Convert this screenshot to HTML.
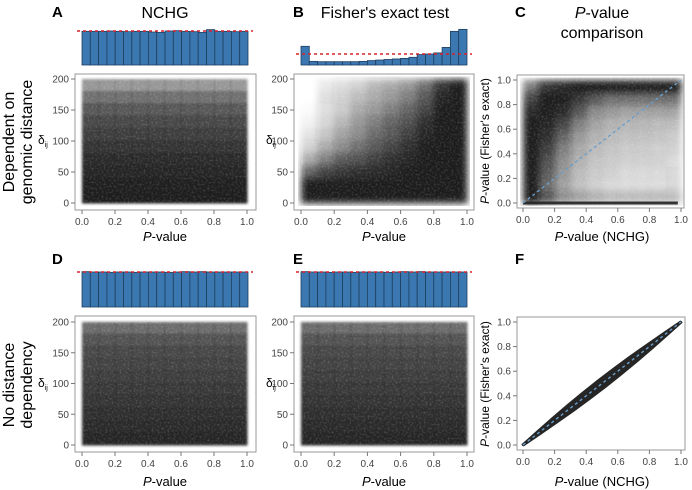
<!DOCTYPE html>
<html><head><meta charset="utf-8"><style>
body{margin:0;background:#fff;}
svg{display:block;font-family:"Liberation Sans",sans-serif;}
.t{font-size:10px;fill:#444;}
</style></head><body>
<svg id="fig" width="692" height="490" viewBox="0 0 692 490">
<defs>
<filter id="soft" x="-2%" y="-2%" width="104%" height="104%"><feGaussianBlur stdDeviation="1.4"/></filter>
<filter id="soft2" x="-2%" y="-2%" width="104%" height="104%"><feGaussianBlur stdDeviation="3.5"/></filter>
<filter id="grain"><feTurbulence type="fractalNoise" baseFrequency="0.5" numOctaves="1" seed="3"/><feColorMatrix values="0 0 0 0 1  0 0 0 0 1  0 0 0 0 1  0 0 0 -1.8 1.0"/></filter>
</defs>
<g id="labels" font-size="16">
<text x="52" y="17" font-weight="bold" font-size="15">A</text>
<text x="165" y="18" text-anchor="middle">NCHG</text>
<text x="293" y="17" font-weight="bold" font-size="15">B</text>
<text x="385" y="18" text-anchor="middle">Fisher's exact test</text>
<text x="515" y="17" font-weight="bold" font-size="15">C</text>
<text x="602" y="18" text-anchor="middle"><tspan font-style="italic">P</tspan>-value</text>
<text x="602" y="38" text-anchor="middle">comparison</text>
<text transform="translate(14,142) rotate(-90)" text-anchor="middle">Dependent on</text>
<text transform="translate(32,142) rotate(-90)" text-anchor="middle">genomic distance</text>
<text transform="translate(14,385) rotate(-90)" text-anchor="middle">No distance</text>
<text transform="translate(32,385) rotate(-90)" text-anchor="middle">dependency</text>
<text x="52" y="264" font-weight="bold" font-size="15">D</text>
<text x="293" y="264" font-weight="bold" font-size="15">E</text>
<text x="515" y="264" font-weight="bold" font-size="15">F</text>
</g>
</svg>
<script>
// ---- data ----
const histA=[0.99,0.99,0.99,1.0,0.99,0.98,0.99,0.99,0.97,0.96,1.0,1.01,0.99,0.98,0.96,1.04,0.99,0.99,0.98,0.99];
const histB=[1.7,0.33,0.3,0.3,0.3,0.3,0.3,0.33,0.4,0.45,0.5,0.55,0.6,0.7,0.95,1.0,1.1,1.6,3.06,3.24];
const histD=[1.01,1.0,1.0,0.99,1.0,1.0,0.99,1.0,1.0,1.0,0.99,1.0,1.01,1.0,1.01,1.0,1.0,1.0,1.0,1.0];
const histE=[1.01,1.0,1.0,0.99,1.0,1.0,0.99,1.0,1.0,1.0,0.99,1.0,1.01,1.0,1.01,1.0,1.0,1.0,1.0,1.0];
const rowDensA=[0.45,0.6,0.7,0.78,0.82,0.86,0.9,0.92,0.94,0.95];
const rowDensD=[0.62,0.74,0.78,0.8,0.82,0.84,0.86,0.88,0.9,0.92];
const gridB=[
[0,0.08,0.15,0.2,0.3,0.35,0.45,0.6,0.85,0.95],
[0,0.12,0.2,0.28,0.35,0.45,0.55,0.7,0.92,1],
[0.02,0.15,0.22,0.35,0.45,0.55,0.65,0.8,0.95,1],
[0.05,0.18,0.3,0.42,0.55,0.65,0.75,0.88,0.97,1],
[0.1,0.25,0.38,0.5,0.62,0.72,0.82,0.92,1,1],
[0.2,0.35,0.5,0.6,0.72,0.8,0.88,0.95,1,1],
[0.35,0.55,0.68,0.75,0.82,0.88,0.92,0.96,1,1],
[0.65,0.8,0.85,0.88,0.9,0.92,0.95,0.97,1,1],
[0.95,0.95,0.95,0.96,0.96,0.97,0.97,0.98,1,1],
[1,1,1,1,1,1,1,1,1,1]];
const gridC=[
[0.55,0.85,0.9,1,1,1,1,1,1,1],
[0.8,0.97,0.95,0.85,0.7,0.6,0.6,0.6,0.6,0.6],
[0.9,0.95,0.9,0.7,0.5,0.42,0.38,0.38,0.38,0.38],
[0.95,0.92,0.8,0.55,0.38,0.32,0.3,0.3,0.28,0.28],
[0.95,0.88,0.65,0.42,0.32,0.28,0.26,0.26,0.25,0.22],
[0.95,0.82,0.55,0.36,0.28,0.25,0.22,0.22,0.2,0.2],
[0.95,0.75,0.48,0.32,0.25,0.22,0.2,0.2,0.2,0.16],
[0.95,0.68,0.42,0.28,0.22,0.2,0.16,0.16,0.16,0.14],
[0.95,0.62,0.38,0.26,0.2,0.16,0.15,0.15,0.15,0.14],
[0.97,0.7,0.48,0.38,0.32,0.28,0.28,0.28,0.28,0.28]];
const bandX=[0,0.1,0.2,0.3,0.4,0.5,0.6,0.7,0.8,0.9,1.0];
const bandHalfF=[0.003,0.01,0.016,0.021,0.024,0.025,0.024,0.021,0.016,0.01,0.003];
const pTicks=[0,0.2,0.4,0.6,0.8,1.0];
const pTickLabels=["0.0","0.2","0.4","0.6","0.8","1.0"];
const dTicks=[0,50,100,150,200];
const dTickLabels=["0","50","100","150","200"];

// ---- drawing ----
const NS="http://www.w3.org/2000/svg";
const svg=document.getElementById('fig');
function el(tag,attrs,parent){const e=document.createElementNS(NS,tag);for(const k in attrs)e.setAttribute(k,attrs[k]);(parent||svg).appendChild(e);return e;}
function lin(d0,d1,r0,r1){return v=>r0+(v-d0)/(d1-d0)*(r1-r0);}

function hist(vals,x0,x1,yb,unitH,name){
  const g=el('g',{});
  
  
  const sx=lin(0,vals.length,x0,x1);
  vals.forEach((v,i)=>{
    const r=el('rect',{x:sx(i),y:yb-v*unitH,width:sx(i+1)-sx(i),height:v*unitH,fill:'#3b78b1',stroke:'#1f3f60','stroke-width':0.8},g);
    
    
  });
  const l=el('line',{x1:x0-5,x2:x1+5,y1:yb-unitH,y2:yb-unitH,stroke:'#d8232a','stroke-width':1.6,'stroke-dasharray':'3,3'},g);
  
  
}

function axes(box,sx,sy,xt,xl,yt,yl,name){
  const g=el('g',{});
  
  
  el('rect',{x:box[0],y:box[1],width:box[2]-box[0],height:box[3]-box[1],fill:'none',stroke:'#999','stroke-width':1},g);
  xt.forEach((v,i)=>{const x=sx(v);el('line',{x1:x,x2:x,y1:box[3],y2:box[3]+4,stroke:'#777'},g);
    const t=el('text',{x:x,y:box[3]+15,'text-anchor':'middle',class:'t'},g);t.textContent=xl[i];});
  yt.forEach((v,i)=>{const y=sy(v);el('line',{x1:box[0],x2:box[0]-4,y1:y,y2:y,stroke:'#777'},g);
    const t=el('text',{x:box[0]-6,y:y+3.5,'text-anchor':'end',class:'t'},g);t.textContent=yl[i];});
}

function gridScatter(grid,box,sx,sy,xmax,ymax,name,filt){
  const clipId='clip-'+name;
  const cp=el('clipPath',{id:clipId});
  el('rect',{x:sx(0)-3,y:sy(ymax)-3,width:sx(xmax)-sx(0)+6,height:sy(0)-sy(ymax)+6},cp);
  const outer=el('g',{'clip-path':'url(#'+clipId+')'});
  const g=el('g',{filter:'url(#'+(filt||'soft')+')'},outer);
  
  
  const nr=grid.length,nc=grid[0].length;
  for(let r=0;r<nr;r++)for(let c=0;c<nc;c++){
    const xa=sx(c/nc*xmax),xb=sx((c+1)/nc*xmax);
    const ya=sy(ymax*(1-r/nr)),yb=sy(ymax*(1-(r+1)/nr));
    el('rect',{x:xa,y:ya,width:xb-xa+0.5,height:yb-ya+0.5,fill:'#1e1e1e','fill-opacity':Math.min(1,grid[r][c]*1.05)},g);
  }
  el('rect',{x:sx(0),y:sy(ymax),width:sx(xmax)-sx(0),height:sy(0)-sy(ymax),fill:'#fff',filter:'url(#grain)',opacity:0.22});
}
function rowGrid(rows,n){return rows.map(v=>Array(n).fill(v));}

// Panel A
(function(){
  hist(histA,82,248,65,34,'hist-a');
  const box=[75,74,256,210],sx=lin(0,1,82,247),sy=lin(0,200,203,79);
  gridScatter(rowGrid(rowDensA,10),box,sx,sy,1,200,'scatter-a');
  axes(box,sx,sy,pTicks,pTickLabels,dTicks,dTickLabels,'panel-a');
})();
// Panel B
(function(){
  hist(histB,301,467,65,11,'hist-b');
  const box=[294,74,474,210],sx=lin(0,1,301,467),sy=lin(0,200,203,79);
  gridScatter(gridB,box,sx,sy,1,200,'scatter-b','soft2');
  axes(box,sx,sy,pTicks,pTickLabels,dTicks,dTickLabels,'panel-b');
})();
// Panel C
(function(){
  const box=[517,75,684,208],sx=lin(0,1,523,681),sy=lin(0,1,203,80);
  gridScatter(gridC,box,sx,sy,1,1,'scatter-c','soft2');
  const z=el('line',{x1:sx(0),x2:sx(0.98),y1:sy(0),y2:sy(0),stroke:'#222','stroke-width':3,opacity:0.9});
  
  const d=el('line',{x1:sx(0),x2:sx(1),y1:sy(0),y2:sy(1),stroke:'#6a9ecb','stroke-width':1.4,'stroke-dasharray':'3,3'});
  
  axes(box,sx,sy,pTicks,pTickLabels,pTicks,pTickLabels,'panel-c');
})();
// Panel D
(function(){
  hist(histD,82,248,307,35,'hist-d');
  const box=[75,316,256,452],sx=lin(0,1,82,247),sy=lin(0,200,445,322);
  gridScatter(rowGrid(rowDensD,10),box,sx,sy,1,200,'scatter-d');
  axes(box,sx,sy,pTicks,pTickLabels,dTicks,dTickLabels,'panel-d');
})();
// Panel E
(function(){
  hist(histE,301,467,307,35,'hist-e');
  const box=[294,316,474,452],sx=lin(0,1,301,467),sy=lin(0,200,445,322);
  gridScatter(rowGrid(rowDensD,10),box,sx,sy,1,200,'scatter-e');
  axes(box,sx,sy,pTicks,pTickLabels,dTicks,dTickLabels,'panel-e');
})();
// Panel F
(function(){
  const box=[517,317,685,450],sx=lin(0,1,523,681),sy=lin(0,1,445,322);
  let up=[],dn=[];
  bandX.forEach((x,i)=>{up.push(sx(x-bandHalfF[i])+','+sy(x+bandHalfF[i]));dn.unshift(sx(x+bandHalfF[i])+','+sy(x-bandHalfF[i]));});
  const p=el('polygon',{points:up.concat(dn).join(' '),fill:'#262626',stroke:'#262626','stroke-width':2,'stroke-linejoin':'round'});
  
  const d=el('line',{x1:sx(0),x2:sx(1),y1:sy(0),y2:sy(1),stroke:'#6a9ecb','stroke-width':1.4,'stroke-dasharray':'3,3'});
  
  axes(box,sx,sy,pTicks,pTickLabels,pTicks,pTickLabels,'panel-f');
})();

// axis titles
function txt(s,attrs,name){const t=el('text',attrs);t.innerHTML=s;return t;}
const pv='<tspan font-style="italic">P</tspan>-value';
txt(pv,{x:165,y:241,'text-anchor':'middle','font-size':13},'x-axis-title-a');
txt(pv,{x:384,y:241,'text-anchor':'middle','font-size':13},'x-axis-title-b');
txt(pv+' (NCHG)',{x:602,y:241,'text-anchor':'middle','font-size':13},'x-axis-title-c');
txt(pv,{x:165,y:486,'text-anchor':'middle','font-size':13},'x-axis-title-d');
txt(pv,{x:384,y:486,'text-anchor':'middle','font-size':13},'x-axis-title-e');
txt(pv+' (NCHG)',{x:602,y:486,'text-anchor':'middle','font-size':13},'x-axis-title-f');
const dl='δ<tspan font-size="7" dy="3">ij</tspan>';
txt(dl,{x:38,y:144,'font-size':12},'y-axis-title-a');
txt(dl,{x:266,y:144,'font-size':12},'y-axis-title-b');
txt(dl,{x:38,y:387,'font-size':12},'y-axis-title-d');
txt(dl,{x:266,y:387,'font-size':12},'y-axis-title-e');
txt(pv+' (Fisher\'s exact)',{transform:'translate(489,141) rotate(-90)','text-anchor':'middle','font-size':12},'y-axis-title-c');
txt(pv+' (Fisher\'s exact)',{transform:'translate(489,384) rotate(-90)','text-anchor':'middle','font-size':12},'y-axis-title-f');
</script>
</body></html>
